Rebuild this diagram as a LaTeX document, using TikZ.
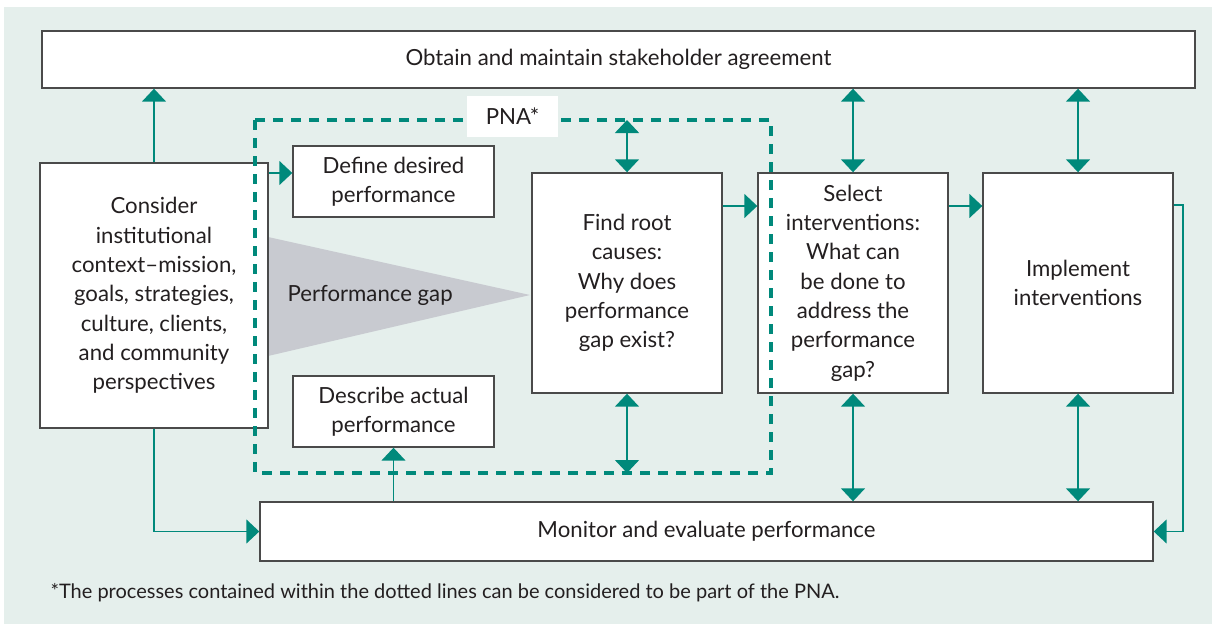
\documentclass[tikz,border=0pt]{standalone}
\usepackage{fontspec}
\setmainfont{Lato}
\usetikzlibrary{arrows.meta,calc}
\definecolor{pnateal}{HTML}{00897B}
\definecolor{bggreen}{HTML}{E5EFEC}
\definecolor{boxgray}{HTML}{4A4A4A}
\definecolor{gapgray}{HTML}{C8CAD0}
\definecolor{txt}{HTML}{231F20}
\newcommand\boxfont{\fontsize{22.2}{29.3}\selectfont}
\newcommand\notefont{\fontsize{20}{22}\selectfont}
\begin{document}
\begin{tikzpicture}[x=1pt,y=-1pt,
  box/.style={draw=boxgray,line width=1.4pt,fill=white,align=center,inner sep=0pt,font=\boxfont,text=txt},
  arr/.style={draw=pnateal,line width=1.5pt,-{Triangle[width=24pt,length=13pt,fill=pnateal]}},
  darr/.style={draw=pnateal,line width=1.5pt,{Triangle[width=24pt,length=13pt,fill=pnateal]}-{Triangle[width=24pt,length=13pt,fill=pnateal]}},
  pnaline/.style={draw=pnateal,line width=4pt,dash pattern=on 10pt off 8pt}]
\useasboundingbox (0,0) rectangle (1212,626);
\fill[white] (0,0) rectangle (1212,626);
\fill[bggreen] (4,7) rectangle (1212,624);
% performance gap triangle
\fill[gapgray] (268,237) -- (530,295) -- (268,356) -- cycle;
\node[anchor=west,font=\boxfont,text=txt] (gap) at (284,295) {Performance gap};
% boxes
\node[box,minimum width=1153pt,minimum height=57pt] (top) at (618.5,59.5) {Obtain and maintain stakeholder agreement};
\node[box,minimum width=228pt,minimum height=265pt] (consider) at (154,295.5) {Consider\\institutional\\context--mission,\\goals, strategies,\\culture, clients,\\and community\\perspectives};
\node[box,minimum width=201pt,minimum height=71pt] (define) at (393.5,181.5) {Define desired\\performance};
\node[box,minimum width=201pt,minimum height=71pt] (describe) at (393.5,411.5) {Describe actual\\performance};
\node[box,minimum width=190pt,minimum height=220pt] (find) at (627,283) {Find root\\causes:\\Why does\\performance\\gap exist?};
\node[box,minimum width=190pt,minimum height=220pt] (select) at (853,283) {Select\\interventions:\\What can\\be done to\\address the\\performance\\gap?};
\node[box,minimum width=190pt,minimum height=220pt] (implement) at (1078,283) {Implement\\interventions};
\node[box,minimum width=893pt,minimum height=59pt] (monitor) at (706.5,531.5) {Monitor and evaluate performance};
% PNA dashed region
\coordinate (pnaTL) at (255,120);
\coordinate (pnaBR) at (771,473);
\draw[pnaline] (pnaTL) rectangle (pnaBR);
\node[fill=white,minimum width=91pt,minimum height=41pt,inner sep=0pt,font=\boxfont,text=txt] (pna) at (512.5,116.5) {PNA*};
% connectors
\draw[arr] (consider.north) -- (consider.north |- top.south);
\draw[arr] (consider.east |- 0,173) -- (define.west |- 0,173);
\draw[arr] (find.east |- 0,206) -- (select.west |- 0,206);
\draw[arr] (select.east |- 0,206) -- (implement.west |- 0,206);
\draw[darr] (find.north) -- (find.north |- pnaTL);
\draw[darr] (find.south) -- (find.south |- pnaBR);
\draw[darr] (select.north) -- (select.north |- top.south);
\draw[darr] (implement.north) -- (implement.north |- top.south);
\draw[darr] (select.south) -- (select.south |- monitor.north);
\draw[darr] (implement.south) -- (implement.south |- monitor.north);
\draw[arr] (consider.south) |- (monitor.west);
\draw[arr] (describe.south |- monitor.north) -- (describe.south);
\coordinate (rightbend) at (1183,205);
\draw[arr] (implement.east |- rightbend) -- (rightbend) |- (monitor.east);
% footnote
\node[anchor=west,font=\notefont,text=txt] (note) at (47,593) {*The processes contained within the dotted lines can be considered to be part of the PNA.};
\end{tikzpicture}
\end{document}
